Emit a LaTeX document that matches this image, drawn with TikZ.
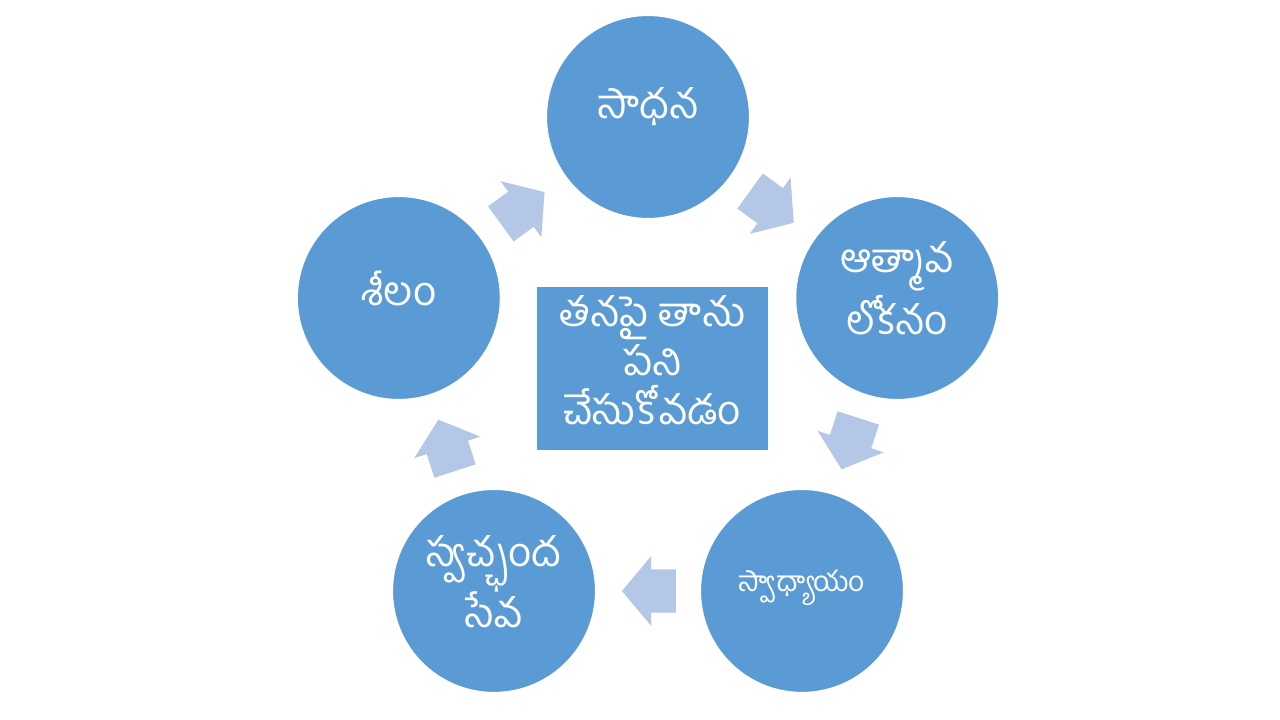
\documentclass[tikz,border=0pt]{standalone}
\usepackage{fontspec}
\newfontfamily\telugu[Script=Telugu]{Hind Guntur}
\usetikzlibrary{shapes.arrows}

\definecolor{cyclefill}{RGB}{91,155,213}
\definecolor{arrowfill}{RGB}{180,199,231}

\tikzset{
  stage/.style={circle,fill=cyclefill,draw=white,line width=0.6pt,minimum size=2.04cm,inner sep=0pt},
  label text/.style={text=white,align=center,font=\telugu\fontsize{11.5}{17.5}\selectfont},
  turn/.style={single arrow,fill=arrowfill,minimum height=0.54cm,text height=0.21cm,text depth=0.21cm,
    single arrow head extend=0.13cm,single arrow tip angle=100,inner sep=0pt,rotate=#1,xshift=-0.1cm},
  core/.style={rectangle,fill=cyclefill,minimum width=2.31cm,minimum height=1.63cm,inner sep=0pt}
}

\begin{document}
\begin{tikzpicture}
  \fill[white] (0,0) rectangle (12.8,7.2);
  \useasboundingbox (0,0) rectangle (12.8,7.2);
  \coordinate (hub) at (6.48,3.41);

  % centre
  \node[core] (self) at (6.525,3.515) {};
  \node[label text,font=\telugu\fontsize{11.5}{14}\selectfont] (selftext) at ([yshift=0.08cm]self) {తనపై తాను\\పని\\చేసుకోవడం};

  % stages of the cycle
  \node[stage] (sadhana) at ([shift={(90:2.62)}]hub) {};
  \node[stage] (atma) at ([shift={(18:2.62)}]hub) {};
  \node[stage] (svadhyaya) at ([shift={(-54:2.62)}]hub) {};
  \node[stage] (seva) at ([shift={(-126:2.62)}]hub) {};
  \node[stage] (sheelam) at ([shift={(162:2.62)}]hub) {};

  \node[label text] (sadhanatext) at ([yshift=0.1cm]sadhana) {సాధన};
  \node[label text] (atmatext) at ([yshift=0.1cm]atma) {ఆత్మావ\\లోకనం};
  \node[label text,font=\telugu\fontsize{8}{10}\selectfont] (svadhyayatext) at ([yshift=0.03cm]svadhyaya) {స్వాధ్యాయం};
  \node[label text] (sevatext) at ([yshift=0.09cm]seva) {స్వచ్ఛంద\\సేవ};
  \node[label text] (sheelamtext) at ([yshift=0.1cm]sheelam) {శీలం};

  % arrows between stages
  \node[turn=36] (a1) at ([shift={(126:2.12)}]hub) {};
  \node[turn=-36] (a2) at ([shift={(54:2.12)}]hub) {};
  \node[turn=-108] (a3) at ([shift={(-18:2.12)}]hub) {};
  \node[turn=180] (a4) at ([shift={(-90:2.12)}]hub) {};
  \node[turn=108] (a5) at ([shift={(-162:2.12)}]hub) {};
\end{tikzpicture}
\end{document}
